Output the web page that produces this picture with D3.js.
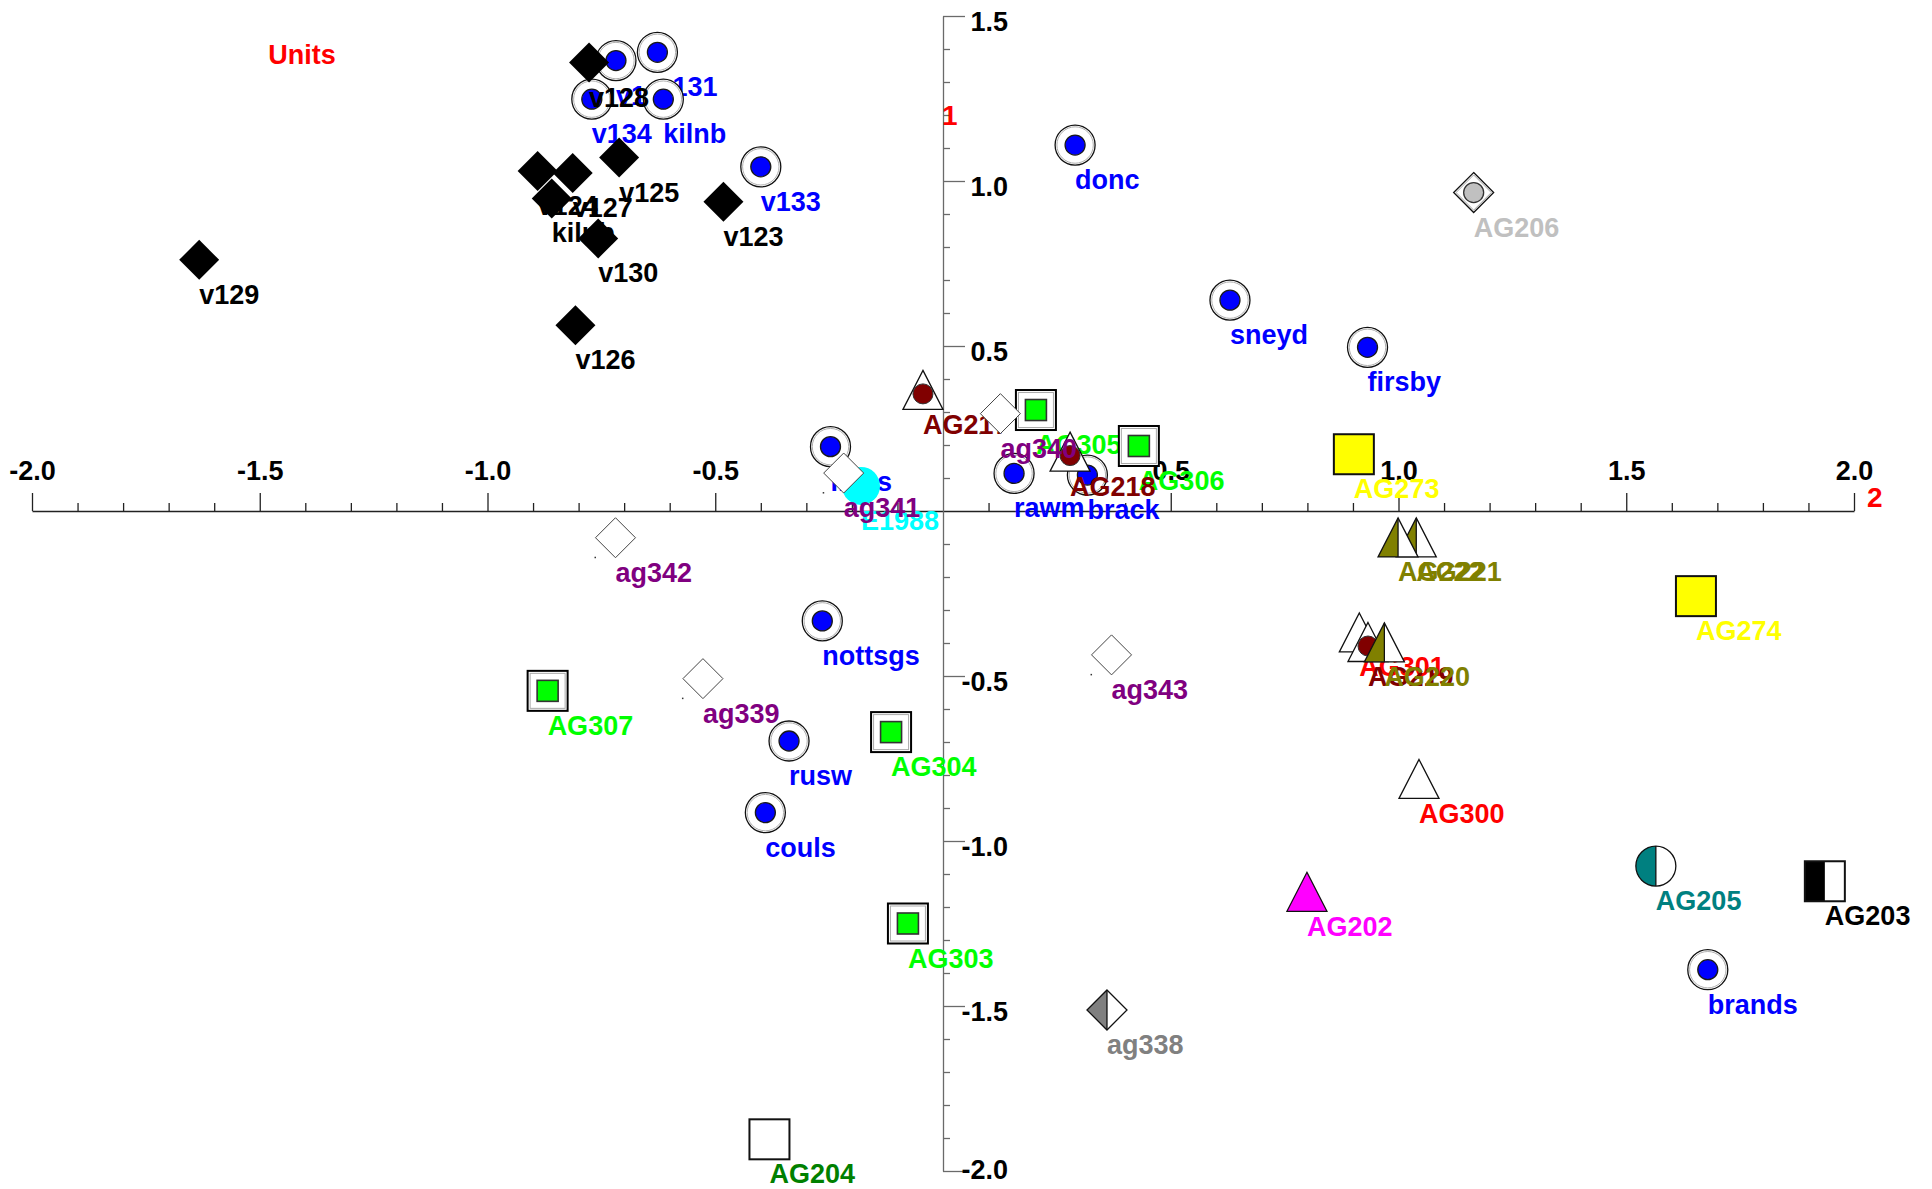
<!DOCTYPE html>
<html>
<head>
<meta charset="utf-8">
<script src="https://cdn.jsdelivr.net/npm/d3@7"></script>
<style>
    body { margin: 0; background: #fff; }
    svg text { font-family: "Liberation Sans", Arial, sans-serif; font-weight: bold; }
</style>
</head>
<body>
<svg id="chart" width="1932" height="1189"></svg>
<script>
// Each point: [label, axis 2 score, axis 1 score]
const variables = [
    ['v129', -1.633, 0.761],
    ['v128', -0.777, 1.359],
    ['v124', -0.890, 1.030],
    ['v127', -0.813, 1.024],
    ['v125', -0.711, 1.071],
    ['kilnb', -0.859, 0.947],
    ['v130', -0.757, 0.826],
    ['v123', -0.482, 0.937],
    ['v126', -0.807, 0.563]
];

const sites = [
    ['donc', 0.290, 1.109],
    ['v132', -0.718, 1.365],
    ['v131', -0.627, 1.390],
    ['v134', -0.771, 1.248],
    ['kilnb', -0.614, 1.248],
    ['v133', -0.400, 1.043],
    ['sneyd', 0.630, 0.639],
    ['firsby', 0.932, 0.496],
    ['lincs', -0.247, 0.195],
    ['rawm', 0.156, 0.114],
    ['brack', 0.317, 0.109],
    ['nottsgs', -0.265, -0.333],
    ['rusw', -0.338, -0.697],
    ['couls', -0.390, -0.914],
    ['brands', 1.679, -1.390]
];

const greenSquares = [
    ['AG305', 0.204, 0.306],
    ['AG306', 0.430, 0.197],
    ['AG307', -0.868, -0.545],
    ['AG304', -0.114, -0.670],
    ['AG303', -0.077, -1.250]
];

const redTriangles = [
    ['AG301', 0.914, -0.368],
    ['AG300', 1.045, -0.812]
];

const maroonTriangles = [
    ['AG217', -0.044, 0.367],
    ['AG218', 0.279, 0.180],
    ['AG219', 0.933, -0.397]
];

const oliveTriangles = [
    ['AG221', 1.039, -0.080],
    ['AG222', 0.999, -0.080],
    ['AG220', 0.969, -0.398]
];

const cyanCircles = [['E1988', -0.180, 0.076]];

const purpleDiamonds = [
    ['ag340', 0.126, 0.295],
    ['ag341', -0.218, 0.115],
    ['ag342', -0.719, -0.081],
    ['ag339', -0.527, -0.508],
    ['ag343', 0.370, -0.436]
];

const grayDiamonds = [['ag338', 0.360, -1.512]];
const silverDiamonds = [['AG206', 1.165, 0.965]];
const yellowSquares = [['AG273', 0.902, 0.172], ['AG274', 1.653, -0.258]];
const whiteSquares = [['AG204', -0.381, -1.904]];
const magentaTriangles = [['AG202', 0.799, -1.154]];
const tealCircles = [['AG205', 1.565, -1.076]];
const blackSquares = [['AG203', 1.936, -1.122]];

// Axis ticks
const xMajor = [-2, -1.5, -1, -0.5, 0.5, 1, 1.5, 2];
const yMajor = [1.5, 1, 0.5, -0.5, -1, -1.5, -2];
const xMinor = d3.range(-20, 21).filter(i => i % 5 !== 0).map(i => i / 10);
const yMinor = d3.range(-20, 16).filter(i => i % 5 !== 0).map(i => i / 10);

const svg = d3.select('#chart');
const x = d3.scaleLinear().domain([-2, 2]).range([32, 1854]);
const y = d3.scaleLinear().domain([-2, 1.5]).range([1171, 16]);
const fmt = d => d.toFixed(1);

// x axis (ticks point up, labels above)
const xAxis = svg.append('g').attr('transform', `translate(0,${y(0)})`);
xAxis.call(d3.axisTop(x).tickValues(xMinor).tickSize(8).tickSizeOuter(0).tickFormat(''));
const xMaj = svg.append('g').attr('transform', `translate(0,${y(0)})`);
xMaj.call(d3.axisTop(x).tickValues(xMajor).tickSize(18).tickPadding(13).tickFormat(fmt));
xMaj.select('.domain').remove();
[xAxis, xMaj].forEach(g => {
    g.attr('color', '#222');
    g.selectAll('path, line').attr('stroke-width', 1.3);
});

// y axis (ticks point right, labels right-aligned)
const yAxis = svg.append('g').attr('transform', `translate(${x(0)},0)`);
yAxis.call(d3.axisRight(y).tickValues(yMinor).tickSize(7).tickSizeOuter(0).tickFormat(''));
const yMaj = svg.append('g').attr('transform', `translate(${x(0)},0)`);
yMaj.call(d3.axisRight(y).tickValues(yMajor).tickSize(22).tickFormat(fmt));
yMaj.select('.domain').remove();
[yAxis, yMaj].forEach(g => {
    g.attr('color', '#6a6a6a');
    g.selectAll('path, line').attr('stroke-width', 1.3);
});

[xMaj, yMaj].forEach(g => {
    g.attr('font-size', null).attr('font-family', null);
    g.selectAll('text')
        .attr('fill', '#000')
        .style('font-size', '27px');
});
// the bottom label is lifted so it stays inside the frame
yMaj.selectAll('text').attr('x', 65).attr('text-anchor', 'end')
    .attr('dy', d => d === -2 ? '0.28em' : '0.55em');

// axis names
svg.append('text').attr('x', 942).attr('y', 125).attr('fill', '#ff0000')
    .style('font-size', '28px').text('1');
svg.append('text').attr('x', 1867).attr('y', 507).attr('fill', '#ff0000')
    .style('font-size', '28px').text('2');
svg.append('text').attr('x', 302).attr('y', 64).attr('text-anchor', 'middle')
    .attr('fill', '#ff0000').style('font-size', '27px').text('Units');

// marker shapes
const diamond = 'M0,-20L20,0L0,20L-20,0Z';
const diamondLeft = 'M0,-20L-20,0L0,20Z';
const triangle = 'M0,-19.5L20,19.5L-20,19.5Z';
const triangleLeft = 'M0,-19.5L0,19.5L-20,19.5Z';
const circleLeft = 'M0,-20A20,20 0 0,0 0,20Z';

const markers = {
    site(g) {
        g.append('circle').attr('r', 20).attr('fill', '#fff').attr('stroke', '#111').attr('stroke-width', 1.3);
        g.append('circle').attr('r', 18.2).attr('fill', 'none').attr('stroke', '#b0b0b0').attr('stroke-width', 1);
        g.append('circle').attr('r', 10).attr('fill', '#0000ff').attr('stroke', '#1a1a1a').attr('stroke-width', 1.3);
    },
    blackDiamond(g) {
        g.append('path').attr('d', diamond).attr('fill', '#000');
    },
    greenSquare(g) {
        g.append('rect').attr('x', -20).attr('y', -20).attr('width', 40).attr('height', 40)
            .attr('fill', '#fff').attr('stroke', '#000').attr('stroke-width', 2);
        g.append('rect').attr('x', -17.5).attr('y', -17.5).attr('width', 35).attr('height', 35)
            .attr('fill', 'none').attr('stroke', '#aaa').attr('stroke-width', 1);
        g.append('rect').attr('x', -10.5).attr('y', -10.5).attr('width', 21).attr('height', 21)
            .attr('fill', '#00ff00').attr('stroke', '#333').attr('stroke-width', 1.6);
    },
    whiteTriangle(g) {
        g.append('path').attr('d', triangle).attr('fill', '#fff').attr('stroke', '#111').attr('stroke-width', 1.3);
    },
    maroonTriangle(g) {
        g.append('path').attr('d', triangle).attr('fill', '#fff').attr('stroke', '#111').attr('stroke-width', 1.3);
        g.append('circle').attr('cy', 4).attr('r', 10).attr('fill', '#800000').attr('stroke', '#333').attr('stroke-width', 1);
    },
    oliveTriangle(g) {
        g.append('path').attr('d', triangle).attr('fill', '#fff');
        g.append('path').attr('d', triangleLeft).attr('fill', '#808000');
        g.append('path').attr('d', triangle).attr('fill', 'none').attr('stroke', '#111').attr('stroke-width', 1.3);
        g.append('line').attr('y1', -19.5).attr('y2', 19.5).attr('stroke', '#111').attr('stroke-width', 1.3);
    },
    cyanCircle(g) {
        g.append('circle').attr('r', 19).attr('fill', '#00ffff');
    },
    whiteDiamond(g) {
        g.append('path').attr('d', diamond).attr('fill', '#fff').attr('stroke', '#444').attr('stroke-width', 1);
        g.append('rect').attr('x', -21).attr('y', 19).attr('width', 1.5).attr('height', 1.5).attr('fill', '#333');
    },
    grayDiamond(g) {
        g.append('path').attr('d', diamond).attr('fill', '#fff');
        g.append('path').attr('d', diamondLeft).attr('fill', '#808080');
        g.append('path').attr('d', diamond).attr('fill', 'none').attr('stroke', '#111').attr('stroke-width', 1.3);
        g.append('line').attr('y1', -20).attr('y2', 20).attr('stroke', '#111').attr('stroke-width', 1.3);
    },
    silverDiamond(g) {
        g.append('path').attr('d', diamond).attr('fill', '#fff').attr('stroke', '#111').attr('stroke-width', 1.3);
        g.append('path').attr('d', diamond).attr('transform', 'scale(0.88)')
            .attr('fill', 'none').attr('stroke', '#999').attr('stroke-width', 1);
        g.append('circle').attr('r', 10).attr('fill', '#c0c0c0').attr('stroke', '#333').attr('stroke-width', 1.3);
    },
    yellowSquare(g) {
        g.append('rect').attr('x', -20).attr('y', -20).attr('width', 40).attr('height', 40)
            .attr('fill', '#ffff00').attr('stroke', '#111').attr('stroke-width', 2);
    },
    whiteSquare(g) {
        g.append('rect').attr('x', -20).attr('y', -20).attr('width', 40).attr('height', 40)
            .attr('fill', '#fff').attr('stroke', '#111').attr('stroke-width', 2);
    },
    magentaTriangle(g) {
        g.append('path').attr('d', triangle).attr('fill', '#ff00ff').attr('stroke', '#111').attr('stroke-width', 1.3);
    },
    tealCircle(g) {
        g.append('circle').attr('r', 20).attr('fill', '#fff');
        g.append('path').attr('d', circleLeft).attr('fill', '#008080');
        g.append('circle').attr('r', 20).attr('fill', 'none').attr('stroke', '#111').attr('stroke-width', 1.3);
        g.append('line').attr('y1', -20).attr('y2', 20).attr('stroke', '#111').attr('stroke-width', 1.3);
    },
    blackSquare(g) {
        g.append('rect').attr('x', -20).attr('y', -20).attr('width', 40).attr('height', 40).attr('fill', '#fff');
        g.append('rect').attr('x', -20).attr('y', -20).attr('width', 20).attr('height', 40).attr('fill', '#000');
        g.append('rect').attr('x', -20).attr('y', -20).attr('width', 40).attr('height', 40)
            .attr('fill', 'none').attr('stroke', '#111').attr('stroke-width', 2);
    }
};

// draw order matters: later groups sit on top
const layers = [
    [sites, 'site', '#0000ff'],
    [variables, 'blackDiamond', '#000000'],
    [greenSquares, 'greenSquare', '#00ff00'],
    [redTriangles, 'whiteTriangle', '#ff0000'],
    [maroonTriangles, 'maroonTriangle', '#800000'],
    [oliveTriangles, 'oliveTriangle', '#808000'],
    [cyanCircles, 'cyanCircle', '#00ffff'],
    [purpleDiamonds, 'whiteDiamond', '#800080'],
    [grayDiamonds, 'grayDiamond', '#808080'],
    [silverDiamonds, 'silverDiamond', '#c0c0c0'],
    [yellowSquares, 'yellowSquare', '#ffff00'],
    [whiteSquares, 'whiteSquare', '#008000'],
    [magentaTriangles, 'magentaTriangle', '#ff00ff'],
    [tealCircles, 'tealCircle', '#008080'],
    [blackSquares, 'blackSquare', '#000000']
];

const plot = svg.append('g');
layers.forEach(([data, shape, color]) => {
    const layer = plot.append('g');
    data.forEach(d => {
        const px = x(d[1]), py = y(d[2]);
        const m = layer.append('g').attr('transform', `translate(${px},${py})`);
        markers[shape](m);
        layer.append('text')
            .attr('x', px)
            .attr('y', py + 44)
            .attr('fill', color)
            .style('font-size', '27px')
            .text(d[0]);
    });
});
</script>
</body>
</html>
